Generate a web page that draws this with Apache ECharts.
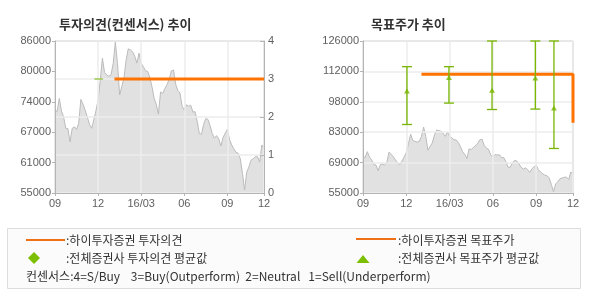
<!DOCTYPE html>
<html>
<head>
<meta charset="utf-8">
<script src="https://cdn.jsdelivr.net/npm/echarts@6/dist/echarts.min.js"></script>
<style>
html,body{margin:0;padding:0;background:#fff;}
#main{width:590px;height:300px;}
</style>
</head>
<body>
<div id="main"></div>
<script>
// ---- data ----
var xTickPos = [0, 20, 40, 60, 80, 97];
var xTickLabels = ['09', '12', '16/03', '06', '09', '12'];

// daily-ish closing prices, one per x unit (0..97)
var priceData = [
  71900, 71600, 74300, 71700, 70500, 68200, 68100, 65400, 68200, 68500,
  68000, 69200, 74100, 73100, 71900, 70500, 69000, 68200, 69900, 71800,
  73900, 78000, 82500, 79600, 79100, 78800, 79100, 81400, 85800, 81400,
  75000, 76700, 78400, 82100, 84400, 84200, 83800, 82900, 81500, 83500,
  81400, 80800, 79900, 79800, 78600, 76700, 74300, 73100, 71100, 75600,
  75300, 76300, 77100, 78200, 79900, 80100, 77200, 75900, 75400, 72700,
  71900, 73000, 72700, 72900, 71500, 71600, 69600, 67100, 67000, 69000,
  70200, 70000, 68700, 67100, 66200, 66700, 66000, 64600, 66300, 67200,
  68000, 65900, 64800, 64000, 63300, 63100, 62000, 59000, 55600, 59300,
  60300, 61700, 62000, 62400, 62400, 61300, 64800, 64000
];

var leftTickLabels = ['55000', '61000', '67000', '74000', '80000', '86000'];
var rightTickLabels = ['55000', '69000', '83000', '98000', '112000', '126000'];
var opinionTickLabels = ['0', '1', '2', '3', '4'];

// 하이투자증권 투자의견 (opinion level)
var hiOpinion = [[27.6, 3], [97, 3]];
// 전체증권사 투자의견 평균값 (visible segment)
var consOpinion = [[18.3, 3], [22.3, 3]];
// 하이투자증권 목표주가
var hiTarget = [[27.7, 110500], [97, 110500], [97, 88500]];
// 전체증권사 목표주가: x, low, high, avg
var targetX = [20.3, 39.7, 59.6, 79.6, 88.2];
var targetLow = [87000, 97000, 94000, 94200, 75800];
var targetHigh = [114000, 114000, 126000, 126000, 126000];
var targetAvg = [102700, 109000, 103000, 108700, 94700];

// ---- build ----
var priceSeriesData = priceData.map(function (v, i) { return [i, v]; });
var targetBars = targetX.map(function (x, i) { return [x, targetLow[i], targetHigh[i]]; });
var targetAvgPts = targetX.map(function (x, i) { return [x, targetAvg[i]]; });

var ORANGE = '#ff7300';
var GREEN = '#77b500';
var AXIS = '#b4b4b4';
var GRIDC = '#ececec';
var LBL = '#606060';
var NUMFONT = 'Liberation Sans, Arial, sans-serif';
var KRFONT = 'Noto Sans CJK KR, sans-serif';

function xAxisFor(gi) {
  return {
    type: 'value', gridIndex: gi, min: 0, max: 97, interval: 20, z: 3,
    axisLine: { show: true, lineStyle: { color: AXIS, width: 1 } },
    axisTick: { show: true, length: 3, lineStyle: { color: AXIS } },
    splitLine: { show: true, lineStyle: { color: GRIDC, width: 1.5 } },
    axisLabel: {
      color: LBL, fontFamily: NUMFONT, fontSize: 11, margin: 5,
      formatter: function (v) {
        var k = xTickPos.indexOf(v);
        return k >= 0 ? xTickLabels[k] : '';
      }
    }
  };
}

var chart = echarts.init(document.getElementById('main'), null, { renderer: 'canvas' });
var option = {
  animation: false,
  backgroundColor: '#ffffff',
  title: [
    { text: '투자의견(컨센서스) 추이', left: 54, top: 13,
      textStyle: { fontFamily: KRFONT, fontSize: 13, fontWeight: 'bold', color: '#333' } },
    { text: '목표주가 추이', left: 366, top: 13,
      textStyle: { fontFamily: KRFONT, fontSize: 13, fontWeight: 'bold', color: '#333' } }
  ],
  grid: [
    { left: 55, top: 41, width: 209, height: 152, show: true, borderColor: AXIS, borderWidth: 1, backgroundColor: '#fff' },
    { left: 363, top: 41, width: 210, height: 152, show: true, borderColor: AXIS, borderWidth: 1, backgroundColor: '#fff' }
  ],
  xAxis: [xAxisFor(0), xAxisFor(1)],
  yAxis: [
    { type: 'value', gridIndex: 0, min: 55000, max: 86000, show: false },
    { type: 'value', gridIndex: 0, min: 0, max: 5, interval: 1, position: 'left', z: 3,
      axisLine: { show: true, lineStyle: { color: AXIS } },
      axisTick: { show: true, length: 3, lineStyle: { color: AXIS } },
      splitLine: { show: false },
      axisLabel: { color: LBL, fontFamily: NUMFONT, fontSize: 11, margin: 4,
        formatter: function (v) { return leftTickLabels[v]; } } },
    { type: 'value', gridIndex: 0, min: 0, max: 4, interval: 1, position: 'right', z: 3,
      axisLine: { show: true, lineStyle: { color: AXIS } },
      axisTick: { show: true, inside: true, length: 4, lineStyle: { color: AXIS } },
      splitLine: { show: true, lineStyle: { color: GRIDC, width: 1.5 } },
      axisLabel: { color: LBL, fontFamily: NUMFONT, fontSize: 11, margin: 4,
        formatter: function (v) { return opinionTickLabels[v]; } } },
    { type: 'value', gridIndex: 1, min: 55000, max: 126000, show: false },
    { type: 'value', gridIndex: 1, min: 0, max: 5, interval: 1, position: 'left', z: 3,
      axisLine: { show: true, lineStyle: { color: AXIS } },
      axisTick: { show: true, length: 3, lineStyle: { color: AXIS } },
      splitLine: { show: true, lineStyle: { color: GRIDC, width: 1.5 } },
      axisLabel: { color: LBL, fontFamily: NUMFONT, fontSize: 11, margin: 4,
        formatter: function (v) { return rightTickLabels[v]; } } }
  ],
  series: [
    { type: 'line', name: 'price1', xAxisIndex: 0, yAxisIndex: 0, data: priceSeriesData,
      showSymbol: false, z: 2, lineStyle: { color: '#bbbbbb', width: 1 },
      areaStyle: { color: '#e1e1e1', opacity: 1, origin: 'start' } },
    { type: 'line', name: 'consOpinion', xAxisIndex: 0, yAxisIndex: 2, data: consOpinion,
      showSymbol: false, z: 4, lineStyle: { color: GREEN, width: 1.2 } },
    { type: 'line', name: 'hiOpinion', xAxisIndex: 0, yAxisIndex: 2, data: hiOpinion,
      showSymbol: false, z: 5, lineStyle: { color: ORANGE, width: 3 } },

    { type: 'line', name: 'price2', xAxisIndex: 1, yAxisIndex: 3, data: priceSeriesData,
      showSymbol: false, z: 2, lineStyle: { color: '#bbbbbb', width: 1 },
      areaStyle: { color: '#e1e1e1', opacity: 1, origin: 'start' } },
    { type: 'line', name: 'hiTarget', xAxisIndex: 1, yAxisIndex: 3, data: hiTarget,
      showSymbol: false, z: 5, lineStyle: { color: ORANGE, width: 3, cap: 'square' } },
    { type: 'custom', name: 'targetRange', xAxisIndex: 1, yAxisIndex: 3, data: targetBars, z: 6,
      renderItem: function (params, api) {
        var lo = api.coord([api.value(0), api.value(1)]);
        var hi = api.coord([api.value(0), api.value(2)]);
        var hw = 5;
        var st = { stroke: GREEN, lineWidth: 1.3 };
        return { type: 'group', children: [
          { type: 'line', shape: { x1: lo[0], y1: lo[1], x2: hi[0], y2: hi[1] }, style: st },
          { type: 'line', shape: { x1: lo[0] - hw, y1: lo[1], x2: lo[0] + hw, y2: lo[1] }, style: st },
          { type: 'line', shape: { x1: hi[0] - hw, y1: hi[1], x2: hi[0] + hw, y2: hi[1] }, style: st }
        ] };
      } },
    { type: 'scatter', name: 'targetAvg', xAxisIndex: 1, yAxisIndex: 3, data: targetAvgPts, z: 7,
      symbol: 'triangle', symbolSize: [6, 5], itemStyle: { color: GREEN } }
  ],
  graphic: [
    { type: 'rect', shape: { x: 7.5, y: 228.5, width: 573, height: 60 },
      style: { fill: '#fbfbfb', stroke: '#dcdcdc', lineWidth: 1 } },
    { type: 'line', shape: { x1: 26, y1: 240, x2: 65, y2: 240 }, style: { stroke: '#f07016', lineWidth: 2 } },
    { type: 'text', x: 66, y: 240, style: { text: ':하이투자증권 투자의견', fill: '#333', font: '12px ' + KRFONT, verticalAlign: 'middle' } },
    { type: 'polygon', shape: { points: [[34, 252], [40, 258], [34, 264], [28, 258]] }, style: { fill: '#7cbf00' } },
    { type: 'text', x: 66, y: 258, style: { text: ':전체증권사 투자의견 평균값', fill: '#333', font: '12px ' + KRFONT, verticalAlign: 'middle' } },
    { type: 'line', shape: { x1: 356, y1: 239, x2: 396, y2: 239 }, style: { stroke: '#f07016', lineWidth: 2 } },
    { type: 'text', x: 398, y: 240, style: { text: ':하이투자증권 목표주가', fill: '#333', font: '12px ' + KRFONT, verticalAlign: 'middle' } },
    { type: 'polygon', shape: { points: [[363, 255], [369.5, 263], [356.5, 263]] }, style: { fill: '#7cbf00' } },
    { type: 'text', x: 398, y: 258, style: { text: ':전체증권사 목표주가 평균값', fill: '#333', font: '12px ' + KRFONT, verticalAlign: 'middle' } },
    { type: 'text', x: 26, y: 276, style: { text: '컨센서스:4=S/Buy    3=Buy(Outperform)  2=Neutral   1=Sell(Underperform)', fill: '#333', font: '12px ' + KRFONT, verticalAlign: 'middle' } }
  ]
};
chart.setOption(option);
</script>
</body>
</html>
